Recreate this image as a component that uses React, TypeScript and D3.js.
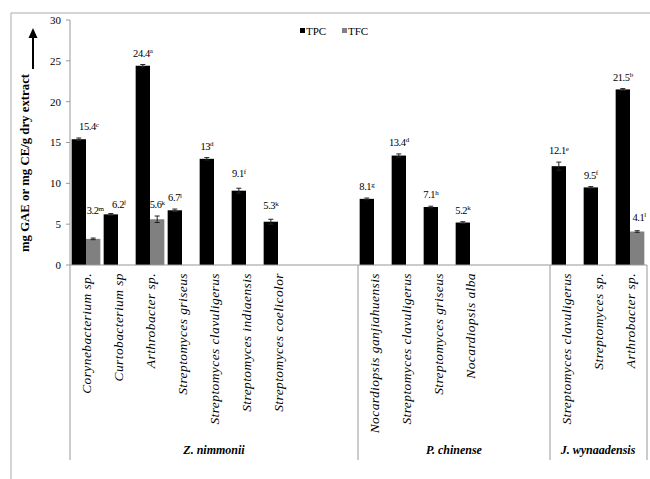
import React from "react";
import * as d3 from "d3";

const categories = [
  "Corynebacterium sp.", "Curtobacterium sp", "Arthrobacter sp.", "Streptomyces griseus",
  "Streptomyces clavuligerus", "Streptomyces indiaensis", "Streptomyces coelicolor", "", "",
  "Nocardiopsis ganjiahuensis", "Streptomyces  clavuligerus", "Streptomyces griseus", "Nocardiopsis alba", "", "",
  "Streptomyces clavuligerus", "Streptomyces sp.", "Arthrobacter sp.",
];
const tpc: (number | null)[] = [15.4, 6.2, 24.4, 6.7, 13, 9.1, 5.3, null, null, 8.1, 13.4, 7.1, 5.2, null, null, 12.1, 9.5, 21.5];
const tpcErr: (number | null)[] = [0.15, 0.1, 0.15, 0.15, 0.15, 0.3, 0.3, null, null, 0.1, 0.2, 0.1, 0.1, null, null, 0.5, 0.1, 0.1];
const tpcSup = ["c", "j", "a", "l", "d", "f", "k", "", "", "g", "d", "h", "k", "", "", "e", "f", "b"];
const tfc: (number | null)[] = [3.2, null, 5.6, null, null, null, null, null, null, null, null, null, null, null, null, null, null, 4.1];
const tfcErr: (number | null)[] = [0.1, null, 0.4, null, null, null, null, null, null, null, null, null, null, null, null, null, null, 0.1];
const tfcSup = ["m", "", "k", "", "", "", "", "", "", "", "", "", "", "", "", "", "", "l"];
const groups = [
  { name: "Z. nimmonii", from: 0, to: 9 },
  { name: "P. chinense", from: 9, to: 15 },
  { name: "J. wynaadensis", from: 15, to: 18 },
];
const yTicks = [0, 5, 10, 15, 20, 25, 30];

// label nudges (layout only): [dx, extra dy]
const tpcNudge: Record<number, [number, number]> = { 0: [10, 0], 1: [8, 2], 5: [0, -3], 6: [0, -2] };
const tfcNudge: Record<number, [number, number]> = { 0: [2, -16], 17: [2, -2] };

const W = 650, H = 479;
const x0 = 70, x1 = 646, yTop = 20, yBot = 265;
const TPC_COLOR = "#000";
const TFC_COLOR = "#808080";
const AXIS = "#999";
const FONT = "'Liberation Serif', 'Times New Roman', serif";

export default function App() {
  const x = d3.scaleBand<number>().domain(categories.map((_, i) => i)).range([x0, x1]).paddingInner(0).paddingOuter(0);
  const inner = d3.scaleBand<string>().domain(["tpc", "tfc"]).range([0, x.bandwidth()]).paddingInner(0).paddingOuter(3 / 26);
  const y = d3.scaleLinear().domain([0, 30]).range([yBot, yTop]);
  const bw = inner.bandwidth();

  const bars: any[] = [];
  const series = [
    { key: "tpc", vals: tpc, err: tpcErr, sup: tpcSup, color: TPC_COLOR, nudge: tpcNudge },
    { key: "tfc", vals: tfc, err: tfcErr, sup: tfcSup, color: TFC_COLOR, nudge: tfcNudge },
  ];
  series.forEach((s) => {
    s.vals.forEach((v, i) => {
      if (v == null) return;
      const bx = (x(i) as number) + (inner(s.key) as number);
      const cx = bx + bw / 2;
      const e = s.err[i] || 0;
      const nd = s.nudge[i] || [0, 0];
      const labY = y(v + e) - 8 + nd[1];
      bars.push(
        <g key={s.key + i}>
          <rect x={bx} y={y(v)} width={bw} height={y(0) - y(v)} fill={s.color} />
          <line x1={cx} x2={cx} y1={y(v - e)} y2={y(v + e)} stroke="#222" strokeWidth={1} />
          <line x1={cx - 2.5} x2={cx + 2.5} y1={y(v + e)} y2={y(v + e)} stroke="#222" strokeWidth={1} />
          <line x1={cx - 2.5} x2={cx + 2.5} y1={y(v - e)} y2={y(v - e)} stroke="#222" strokeWidth={1} />
          <text x={cx + nd[0]} y={labY} textAnchor="middle" fontSize={10.5} fontFamily={FONT} letterSpacing={-0.4} fill="#000">
            {String(v)}
            <tspan fontSize={7} dy={-3.5}>{s.sup[i]}</tspan>
          </text>
        </g>
      );
    });
  });

  return (
    <svg width={W} height={H} style={{ position: "absolute", left: 0, top: 0, background: "#fff" }}>
      {/* frame */}
      <line x1={11} x2={W} y1={13} y2={13} stroke="#aaa" strokeWidth={1} />
      <line x1={11} x2={11} y1={13} y2={H} stroke="#aaa" strokeWidth={1} />

      {/* y axis */}
      <line x1={x0} x2={x0} y1={yTop} y2={yBot} stroke={AXIS} strokeWidth={1} />
      {yTicks.map((t) => (
        <g key={t}>
          <line x1={x0 - 4} x2={x0} y1={y(t)} y2={y(t)} stroke={AXIS} />
          <text x={x0 - 9} y={y(t)} dy="0.35em" textAnchor="end" fontSize={11} fontFamily={FONT} fill="#000">{t}</text>
        </g>
      ))}
      <text transform={`translate(25,163) rotate(-90)`} textAnchor="middle" dy="0.35em" fontSize={12.8} fontWeight="bold" fontFamily={FONT} fill="#000">
        mg GAE or mg CE/g dry extract
      </text>
      {/* arrow */}
      <line x1={33} x2={33} y1={69} y2={36} stroke="#000" strokeWidth={2} />
      <path d="M33,28 L28.5,38 L37.5,38 Z" fill="#000" />

      {/* legend */}
      <rect x={300} y={28} width={5} height={5} fill={TPC_COLOR} />
      <text x={306} y={34.5} fontSize={11} fontFamily={FONT} fill="#000">TPC</text>
      <rect x={342} y={28} width={5} height={5} fill={TFC_COLOR} />
      <text x={348} y={34.5} fontSize={11} fontFamily={FONT} fill="#000">TFC</text>

      {bars}

      {/* x axis */}
      <line x1={x0} x2={x1 + 1} y1={yBot} y2={yBot} stroke={AXIS} strokeWidth={1} />
      {groups.map((g) => (
        <line key={"s" + g.name} x1={x(g.from) as number} x2={x(g.from) as number} y1={yBot} y2={460} stroke={AXIS} />
      ))}
      <line x1={x1 + 1} x2={x1 + 1} y1={yBot} y2={460} stroke={AXIS} />
      {categories.map((c, i) =>
        c ? (
          <text key={"c" + i} transform={`translate(${(x(i) as number) + x.bandwidth() / 2},273) rotate(-90)`} textAnchor="end" dy="0.35em"
            fontSize={13.5} fontStyle="italic" fontFamily={FONT} letterSpacing={0.4} fill="#000">
            {c}
          </text>
        ) : null
      )}
      {groups.map((g) => {
        const gx = ((x(g.from) as number) + ((g.to < categories.length ? (x(g.to) as number) : x1))) / 2;
        return (
          <text key={"g" + g.name} x={gx} y={454} textAnchor="middle" fontSize={12} fontWeight="bold" fontStyle="italic" fontFamily={FONT} fill="#000">
            {g.name}
          </text>
        );
      })}
    </svg>
  );
}
